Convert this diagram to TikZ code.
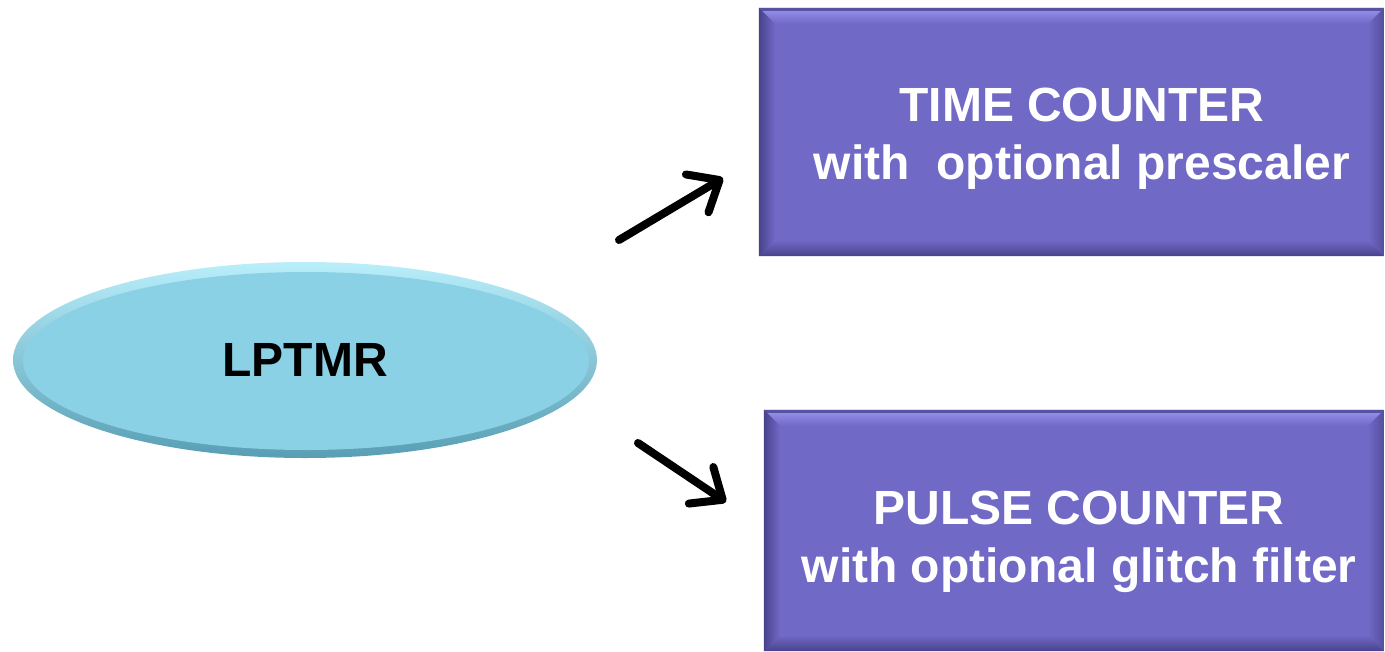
\documentclass[tikz,border=0pt]{standalone}
\usepackage{fontspec}
\setmainfont{Liberation Sans}
\usetikzlibrary{arrows.meta,shapes.geometric,calc}
\definecolor{boxfill}{RGB}{112,105,198}
\definecolor{boxlight}{RGB}{152,148,238}
\definecolor{boxdark}{RGB}{72,66,140}
\definecolor{ellfill}{RGB}{138,209,230}
\definecolor{elllight}{RGB}{185,238,250}
\definecolor{elldark}{RGB}{88,158,180}
\tikzset{
  boxnode/.style={rectangle, fill=boxfill, inner sep=0pt, align=center,
    text=white, font=\fontsize{48}{58}\selectfont\bfseries},
  ellnode/.style={ellipse, inner sep=0pt, font=\fontsize{48}{56}\selectfont\bfseries, text=black},
  arr/.style={line width=8pt, line cap=round,
    -{Straight Barb[length=26pt,width=44pt,line cap=round,line join=round]}},
}
\newcommand\bevelbox[1]{%
  \def\bv{16}%
  \shade[top color=boxlight, bottom color=boxfill]
    (#1.north west) -- (#1.north east) -- ($(#1.north east)+(-\bv,\bv)$) -- ($(#1.north west)+(\bv,\bv)$) -- cycle;
  \fill[boxdark!60!boxfill] (#1.north west) -- (#1.north east) -- ($(#1.north east)+(-3,3)$) -- ($(#1.north west)+(3,3)$) -- cycle;
  \shade[left color=boxdark, right color=boxfill]
    (#1.north west) -- ($(#1.north west)+(\bv,\bv)$) -- ($(#1.south west)+(\bv,-\bv)$) -- (#1.south west) -- cycle;
  \shade[top color=boxfill, bottom color=boxdark]
    (#1.south west) -- ($(#1.south west)+(\bv,-\bv)$) -- ($(#1.south east)+(-\bv,-\bv)$) -- (#1.south east) -- cycle;
  \shade[left color=boxfill, right color=boxdark!70!boxfill]
    (#1.north east) -- ($(#1.north east)+(-\bv,\bv)$) -- ($(#1.south east)+(-\bv,-\bv)$) -- (#1.south east) -- cycle;
}
\begin{document}
\begin{tikzpicture}[x=1pt,y=-1pt]
\useasboundingbox (0,0) rectangle (1385,651);
% ellipse
\shade[top color=elllight, bottom color=elldark] (305,360) ellipse [x radius=292, y radius=98];
\fill[ellfill] (306,361) ellipse [x radius=283, y radius=89];
\node[ellnode, minimum width=584pt, minimum height=196pt] (lp) at (305,360) {LPTMR};
% boxes
\node[boxnode, minimum width=625pt, minimum height=248pt] (tc) at (1071.5,132) {};
\bevelbox{tc}
\node[boxnode] (tct) at (1082,139) {TIME COUNTER\\with\ \ optional prescaler};
\node[boxnode, minimum width=620pt, minimum height=241pt] (pc) at (1074,530.5) {};
\bevelbox{pc}
\node[boxnode] (pct) at (1079,542) {PULSE COUNTER\\with optional glitch filter};
% arrows
\coordinate (a1s) at (619,240);
\coordinate (a1e) at (723,178);
\coordinate (a2s) at (638,443);
\coordinate (a2e) at (726,502);
\draw[arr] (a1s) -- (a1e);
\draw[arr] (a2s) -- (a2e);
\end{tikzpicture}
\end{document}
